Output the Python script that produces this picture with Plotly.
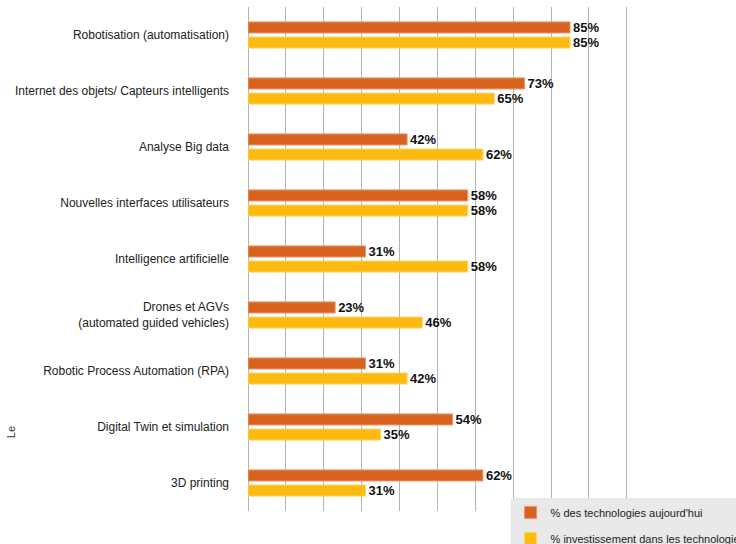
import plotly.graph_objects as go

# Data
categories = [
    'Robotisation (automatisation)',
    'Internet des objets/ Capteurs intelligents',
    'Analyse Big data',
    'Nouvelles interfaces utilisateurs',
    'Intelligence artificielle',
    'Drones et AGVs<br>(automated guided vehicles)',
    'Robotic Process Automation (RPA)',
    'Digital Twin et simulation',
    '3D printing',
]
today_pct = [85, 73, 42, 58, 31, 23, 31, 54, 62]
invest_pct = [85, 65, 62, 58, 58, 46, 42, 35, 31]

series_names = ["% des technologies aujourd'hui",
                '% investissement dans les technologies']
orange = '#D9621F'
yellow = '#FDBB12'

fig = go.Figure()

fig.add_trace(go.Bar(
    name=series_names[0],
    y=categories, x=today_pct,
    orientation='h',
    marker={'color': orange, 'line': {'color': '#E8956A', 'width': 1}},
    text=[f'<b>{v}%</b>' for v in today_pct],
    textposition='outside',
    constraintext='none',
    textfont={'color': '#111111', 'size': 13},
    cliponaxis=False,
    legendgroup='a',
))
fig.add_trace(go.Bar(
    name=series_names[1],
    y=categories, x=invest_pct,
    orientation='h',
    marker={'color': yellow, 'line': {'color': '#FCD36A', 'width': 1}},
    text=[f'<b>{v}%</b>' for v in invest_pct],
    textposition='outside',
    constraintext='none',
    textfont={'color': '#111111', 'size': 13},
    cliponaxis=False,
    legendgroup='b',
))

fig.update_xaxes(
    range=[0, 100.3],
    tick0=0,
    dtick=10,
    showgrid=True,
    gridcolor='#B4B4B4',
    gridwidth=1,
    zeroline=True,
    zerolinecolor='#B4B4B4',
    zerolinewidth=1,
    showticklabels=False,
    automargin=False,
)
fig.update_yaxes(
    autorange='reversed',
    showgrid=False,
    ticks='',
    ticklabelstandoff=18,
    tickfont={'size': 12, 'color': '#222222'},
    automargin=False,
)

fig.add_annotation(
    text='Le', textangle=-90,
    xref='paper', yref='paper',
    x=-0.623, y=0.157,
    xanchor='center', yanchor='middle',
    showarrow=False,
    font={'size': 11, 'color': '#333333'},
)

fig.update_layout(
    width=736, height=544,
    barmode='group',
    bargap=0.46,
    bargroupgap=0.27,
    paper_bgcolor='white',
    plot_bgcolor='white',
    font={'family': 'Liberation Sans, Arial, sans-serif'},
    margin=dict(l=248, r=108, t=7, b=33, autoexpand=False),
    legend=dict(
        x=0.691, y=0.026,
        xanchor='left', yanchor='top',
        bgcolor='#E9E9E9',
        traceorder='grouped',
        tracegroupgap=7,
        font={'size': 11, 'color': '#222222'},
        itemwidth=30,
    ),
)

fig.write_html('out.html', config={'displayModeBar': False},
               post_script="document.body.style.margin='0';")
